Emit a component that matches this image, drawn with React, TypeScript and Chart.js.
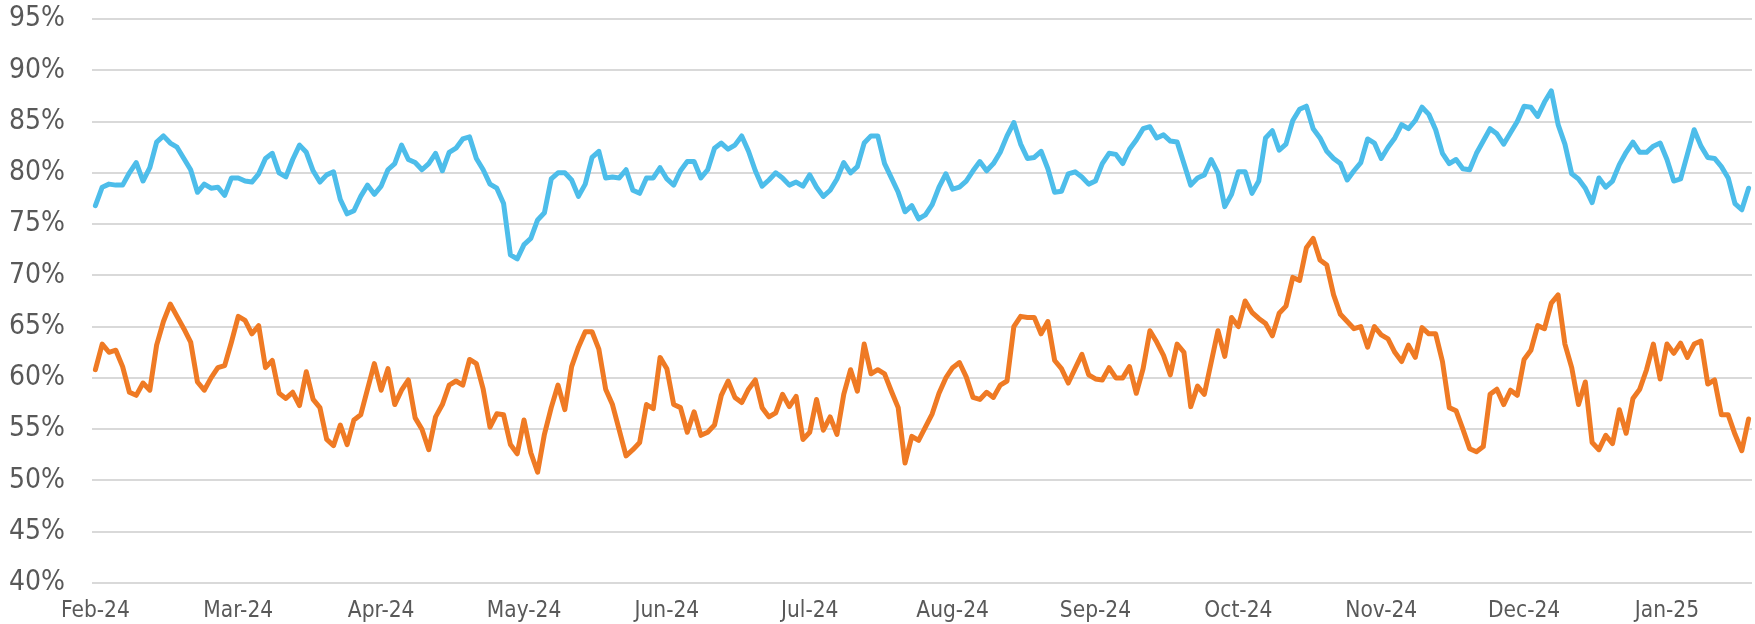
import { useEffect, useRef } from "react"
import { Chart, registerables } from "chart.js"

Chart.register(...registerables)

// month tick labels, one every LABEL_STEP trading days
const monthLabels = [
  "Feb-24", "Mar-24", "Apr-24", "May-24", "Jun-24", "Jul-24",
  "Aug-24", "Sep-24", "Oct-24", "Nov-24", "Dec-24", "Jan-25",
]
const LABEL_STEP = 21

// upper (blue) series, %
const upperSeries = [
  76.8, 78.6, 78.9, 78.8, 78.8, 80.0, 81.0, 79.2, 80.5, 83.0,
  83.6, 82.9, 82.5, 81.4, 80.3, 78.1, 78.9, 78.5, 78.6, 77.8,
  79.5, 79.5, 79.2, 79.1, 79.9, 81.4, 81.9, 80.0, 79.6, 81.3,
  82.7, 82.0, 80.2, 79.1, 79.8, 80.1, 77.4, 76.0, 76.3, 77.7,
  78.8, 77.9, 78.7, 80.3, 80.9, 82.7, 81.3, 81.0, 80.3, 80.9,
  81.9, 80.2, 82.0, 82.4, 83.3, 83.5, 81.4, 80.3, 78.9, 78.5,
  77.0, 72.0, 71.6, 73.0, 73.6, 75.4, 76.1, 79.4, 80.0, 80.0,
  79.3, 77.7, 78.9, 81.5, 82.1, 79.5, 79.6, 79.5, 80.3, 78.3,
  78.0, 79.5, 79.5, 80.5, 79.4, 78.8, 80.2, 81.1, 81.1, 79.5,
  80.3, 82.4, 82.9, 82.3, 82.7, 83.6, 82.1, 80.2, 78.7, 79.3,
  80.0, 79.5, 78.8, 79.1, 78.7, 79.8, 78.6, 77.7, 78.3, 79.4,
  81.0, 80.0, 80.6, 82.9, 83.6, 83.6, 80.9, 79.5, 78.1, 76.2,
  76.8, 75.5, 75.9, 76.9, 78.6, 79.9, 78.4, 78.6, 79.2, 80.2,
  81.1, 80.2, 80.9, 82.0, 83.6, 84.9, 82.8, 81.4, 81.5, 82.1,
  80.4, 78.1, 78.2, 79.9, 80.1, 79.6, 78.9, 79.2, 80.9, 81.9,
  81.8, 80.9, 82.3, 83.2, 84.3, 84.5, 83.4, 83.7, 83.1, 83.0,
  80.9, 78.8, 79.5, 79.8, 81.3, 80.0, 76.7, 77.9, 80.1, 80.1,
  78.0, 79.2, 83.4, 84.1, 82.2, 82.8, 85.1, 86.2, 86.5, 84.3,
  83.4, 82.1, 81.4, 80.9, 79.3, 80.2, 81.0, 83.3, 82.9, 81.4,
  82.5, 83.4, 84.7, 84.3, 85.1, 86.4, 85.7, 84.2, 81.9, 80.9,
  81.3, 80.4, 80.3, 81.9, 83.1, 84.3, 83.8, 82.8, 83.9, 85.0,
  86.5, 86.4, 85.5, 86.9, 88.0, 84.7, 82.8, 79.9, 79.4, 78.5,
  77.1, 79.5, 78.6, 79.2, 80.8, 82.0, 83.0, 82.0, 82.0, 82.6,
  82.9, 81.3, 79.2, 79.4, 81.8, 84.2, 82.6, 81.5, 81.4, 80.6,
  79.5, 77.0, 76.4, 78.5,
]

// lower (orange) series, %
const lowerSeries = [
  60.8, 63.3, 62.5, 62.7, 61.1, 58.6, 58.3, 59.5, 58.8, 63.2,
  65.5, 67.2, 66.0, 64.8, 63.5, 59.6, 58.8, 60.0, 61.0, 61.2,
  63.5, 66.0, 65.6, 64.3, 65.1, 61.0, 61.7, 58.5, 58.0, 58.6,
  57.3, 60.6, 57.9, 57.1, 54.0, 53.4, 55.4, 53.5, 55.9, 56.4,
  58.9, 61.4, 58.8, 60.9, 57.4, 58.8, 59.8, 56.1, 55.0, 53.0,
  56.2, 57.4, 59.3, 59.7, 59.3, 61.8, 61.4, 58.9, 55.2, 56.5,
  56.4, 53.5, 52.6, 55.9, 52.7, 50.8, 54.5, 57.1, 59.3, 56.9,
  61.1, 63.0, 64.5, 64.5, 62.8, 58.9, 57.4, 54.9, 52.4, 53.0,
  53.7, 57.4, 57.0, 62.0, 60.9, 57.4, 57.1, 54.7, 56.7, 54.4,
  54.7, 55.4, 58.3, 59.7, 58.1, 57.6, 58.9, 59.8, 57.1, 56.2,
  56.6, 58.4, 57.2, 58.2, 54.0, 54.7, 57.9, 54.9, 56.2, 54.5,
  58.4, 60.8, 58.7, 63.3, 60.4, 60.8, 60.4, 58.7, 57.1, 51.7,
  54.3, 53.9, 55.2, 56.5, 58.5, 60.0, 61.0, 61.5, 60.1, 58.1,
  57.9, 58.6, 58.1, 59.3, 59.7, 65.0, 66.0, 65.9, 65.9, 64.3,
  65.5, 61.7, 60.9, 59.5, 60.9, 62.3, 60.3, 59.9, 59.8, 61.0,
  60.0, 60.0, 61.1, 58.5, 60.9, 64.6, 63.5, 62.2, 60.3, 63.3,
  62.5, 57.2, 59.2, 58.4, 61.5, 64.6, 62.1, 65.9, 65.0, 67.5,
  66.4, 65.8, 65.3, 64.1, 66.3, 67.0, 69.8, 69.5, 72.7, 73.6,
  71.5, 71.0, 68.1, 66.2, 65.5, 64.8, 65.0, 63.0, 65.0, 64.2,
  63.8, 62.5, 61.6, 63.2, 62.0, 64.9, 64.3, 64.3, 61.6, 57.1,
  56.8, 55.0, 53.1, 52.8, 53.3, 58.4, 58.9, 57.4, 58.8, 58.3,
  61.8, 62.7, 65.1, 64.8, 67.3, 68.1, 63.3, 61.0, 57.4, 59.6,
  53.7, 53.0, 54.4, 53.6, 56.9, 54.6, 58.0, 58.9, 60.8, 63.3,
  59.9, 63.3, 62.4, 63.4, 62.0, 63.3, 63.6, 59.4, 59.8, 56.4,
  56.4, 54.5, 52.9, 56.0,
]

const Y_MIN = 40
const Y_MAX = 95
const Y_STEP = 5

const FONT = "'DejaVu Sans Condensed', 'DejaVu Sans', sans-serif"

export default function App() {
  const canvasRef = useRef<HTMLCanvasElement>(null)
  const chartRef = useRef<Chart | null>(null)

  useEffect(() => {
    if (!canvasRef.current) return
    if (chartRef.current) chartRef.current.destroy()

    const labels = upperSeries.map((_, i) =>
      i % LABEL_STEP === 0 && monthLabels[i / LABEL_STEP] ? monthLabels[i / LABEL_STEP] : ""
    )

    chartRef.current = new Chart(canvasRef.current, {
      type: "line",
      data: {
        labels,
        datasets: [
          {
            data: upperSeries,
            borderColor: "#4dbdea",
            borderWidth: 5,
            pointRadius: 0,
            tension: 0,
            borderJoinStyle: "round",
            borderCapStyle: "round",
          },
          {
            data: lowerSeries,
            borderColor: "#ef7a24",
            borderWidth: 5,
            pointRadius: 0,
            tension: 0,
            borderJoinStyle: "round",
            borderCapStyle: "round",
          },
        ],
      },
      options: {
        responsive: false,
        animation: false,
        layout: { padding: { top: 19, right: 3, left: 0, bottom: 0 } },
        plugins: {
          legend: { display: false },
          tooltip: { enabled: false },
        },
        scales: {
          x: {
            offset: true,
            grid: { display: false, drawTicks: false },
            border: { display: false },
            ticks: {
              autoSkip: false,
              maxRotation: 0,
              padding: 15,
              color: "#595959",
              font: { family: FONT, size: 22.5 },
            },
            afterFit: (scale) => {
              scale.height = 41
              scale.paddingLeft = 0
              scale.paddingRight = 0
            },
          },
          y: {
            min: Y_MIN,
            max: Y_MAX,
            grid: { color: "#d9d9d9", lineWidth: 2, drawTicks: false },
            border: { display: false },
            ticks: {
              stepSize: Y_STEP,
              padding: 27,
              color: "#595959",
              font: { family: FONT, size: 28 },
              callback: (v) => `${v}%`,
            },
            afterFit: (scale) => {
              scale.width = 92
              scale.paddingTop = 0
              scale.paddingBottom = 0
            },
          },
        },
      },
    })

    return () => {
      if (chartRef.current) {
        chartRef.current.destroy()
        chartRef.current = null
      }
    }
  }, [])

  return (
    <div style={{ position: "absolute", left: 0, top: 0, width: 1755, height: 624, background: "#fff" }}>
      <canvas ref={canvasRef} width={1755} height={624} />
    </div>
  )
}
